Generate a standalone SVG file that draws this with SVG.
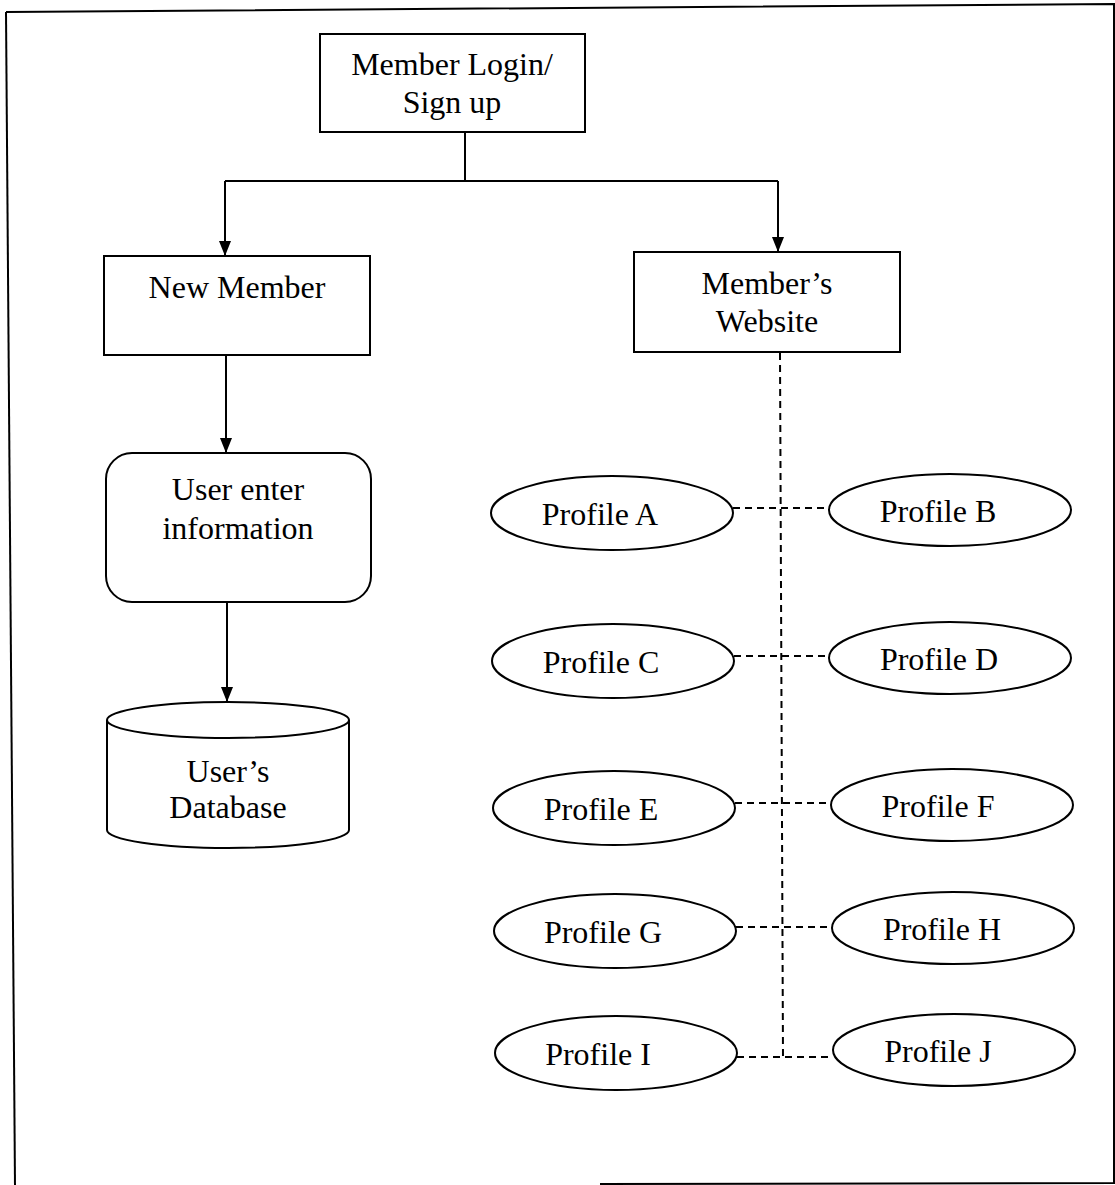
<svg xmlns="http://www.w3.org/2000/svg" width="1115" height="1185" viewBox="0 0 1115 1185">
<defs>
<style>
.box{fill:#fff;stroke:#000;stroke-width:2}
.t{font-family:"Liberation Serif","Times New Roman",serif;font-size:32px;fill:#000;text-anchor:middle}
.ln{fill:none;stroke:#000;stroke-width:2}
.dash{fill:none;stroke:#000;stroke-width:2;stroke-dasharray:7 5}
</style>
<marker id="arr" viewBox="0 0 15 12" refX="15" refY="6" markerWidth="15" markerHeight="12" markerUnits="userSpaceOnUse" orient="auto">
<path d="M0,0 L15,6 L0,12 Z" fill="#000"/>
</marker>
</defs>
<rect width="1115" height="1185" fill="#fff"/>
<g id="frame">
<path class="ln" d="M6,12 L1114,4 L1114,1183 L600,1184"/>
<path class="ln" d="M6,12 L15,1185"/>
</g>
<g id="connectors">
<path class="ln" d="M465,132 L465,181"/>
<path class="ln" d="M225,181 L778,181"/>
<path class="ln" d="M225,181 L225,256" marker-end="url(#arr)"/>
<path class="ln" d="M778,181 L778,252" marker-end="url(#arr)"/>
<path class="ln" d="M226,355 L226,453" marker-end="url(#arr)"/>
<path class="ln" d="M227,602 L227,702" marker-end="url(#arr)"/>
<path class="dash" d="M780,353 L783,1058"/>
<path class="dash" d="M733,508 L828,508"/>
<path class="dash" d="M734,656 L829,656"/>
<path class="dash" d="M735,803 L831,803"/>
<path class="dash" d="M736,927 L832,927"/>
<path class="dash" d="M737,1057 L833,1057"/>
</g>
<g id="login">
<rect class="box" x="320" y="34" width="265" height="98"/>
<text class="t" x="452" y="75">Member Login/</text>
<text class="t" x="452" y="113">Sign up</text>
</g>
<g id="newmember">
<rect class="box" x="104" y="256" width="266" height="99"/>
<text class="t" x="237" y="298">New Member</text>
</g>
<g id="website">
<rect class="box" x="634" y="252" width="266" height="100"/>
<text class="t" x="767" y="294">Member’s</text>
<text class="t" x="767" y="332">Website</text>
</g>
<g id="userenter">
<rect class="box" x="106" y="453" width="265" height="149" rx="26" ry="26"/>
<text class="t" x="238" y="500">User enter</text>
<text class="t" x="238" y="539">information</text>
</g>
<g id="database">
<path class="box" d="M107,720 L107,830 A121,18 0 0 0 349,830 L349,720 A121,18 0 0 0 107,720 Z"/>
<path class="ln" d="M107,720 A121,18 0 0 0 349,720"/>
<text class="t" x="228" y="782">User’s</text>
<text class="t" x="228" y="818">Database</text>
</g>
<g id="profileA"><ellipse class="box" cx="612" cy="513" rx="121" ry="37"/><text class="t" x="600" y="525">Profile A</text></g>
<g id="profileB"><ellipse class="box" cx="950" cy="510" rx="121" ry="36"/><text class="t" x="938" y="522">Profile B</text></g>
<g id="profileC"><ellipse class="box" cx="613" cy="661" rx="121" ry="37"/><text class="t" x="601" y="673">Profile C</text></g>
<g id="profileD"><ellipse class="box" cx="950" cy="658" rx="121" ry="36"/><text class="t" x="939" y="670">Profile D</text></g>
<g id="profileE"><ellipse class="box" cx="614" cy="808" rx="121" ry="37"/><text class="t" x="601" y="820">Profile E</text></g>
<g id="profileF"><ellipse class="box" cx="952" cy="805" rx="121" ry="36"/><text class="t" x="938" y="817">Profile F</text></g>
<g id="profileG"><ellipse class="box" cx="615" cy="931" rx="121" ry="37"/><text class="t" x="603" y="943">Profile G</text></g>
<g id="profileH"><ellipse class="box" cx="953" cy="928" rx="121" ry="36"/><text class="t" x="942" y="940">Profile H</text></g>
<g id="profileI"><ellipse class="box" cx="616" cy="1053" rx="121" ry="37"/><text class="t" x="598" y="1065">Profile I</text></g>
<g id="profileJ"><ellipse class="box" cx="954" cy="1050" rx="121" ry="36"/><text class="t" x="938" y="1062">Profile J</text></g>
</svg>
